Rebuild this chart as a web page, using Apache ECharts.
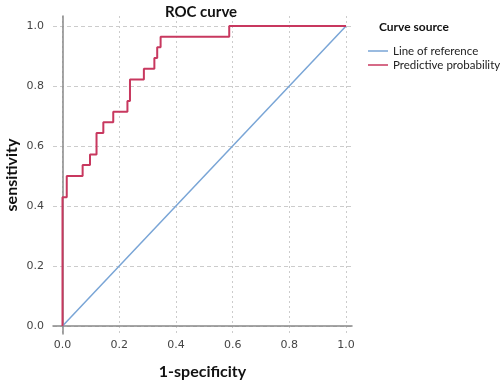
<!DOCTYPE html>
<html>
<head>
<meta charset="utf-8">
<script src="https://cdn.jsdelivr.net/npm/echarts@6/dist/echarts.min.js"></script>
<style>
  html, body { margin: 0; padding: 0; background: #fff; }
  #main { width: 500px; height: 384px; }
</style>
</head>
<body>
<div id="main"></div>
<script>
// ROC 曲线数据（拐点，step:'start' 先竖后横）
var fpr = [0, 0.015, 0.071, 0.097, 0.120, 0.144, 0.179, 0.229, 0.238, 0.287, 0.324, 0.334, 0.346, 0.588, 1.0];
var tpr = [0, 0.429, 0.500, 0.536, 0.571, 0.643, 0.679, 0.714, 0.750, 0.821, 0.857, 0.893, 0.929, 0.964, 1.0];
var refX = [0, 1];
var refY = [0, 1];
var tickValues = [0, 0.2, 0.4, 0.6, 0.8, 1.0];
var seriesNames = ['Line of reference', 'Predictive probability'];

var rocData = [];
for (var i = 0; i < fpr.length; i++) {
	rocData.push([fpr[i], tpr[i]]);
}
var refData = [];
for (var j = 0; j < refX.length; j++) {
	refData.push([refX[j], refY[j]]);
}

var dom = document.getElementById('main');
var myChart = echarts.init(dom);

var labelStyle = {
	fontFamily: 'DejaVu Sans',
	fontSize: 11,
	color: '#444',
	formatter: function (v) { return v.toFixed(1); }
};

var option = {
	animation: false,
	title: {
		text: 'ROC curve',
		left: 196,
		top: 0,
		textAlign: 'center',
		textStyle: { fontFamily: 'Lato', fontWeight: 'bold', fontSize: 15, color: '#111' }
	},
	graphic: [{
		type: 'text',
		left: 379,
		top: 21,
		style: { text: 'Curve source', fontFamily: 'Lato', fontWeight: 'bold', fontSize: 12, fill: '#111' }
	}],
	legend: {
		orient: 'vertical',
		left: 363,
		top: 40,
		icon: 'rect',
		itemWidth: 20,
		itemHeight: 1.5,
		itemGap: 2,
		data: seriesNames,
		textStyle: { fontFamily: 'Lato', fontSize: 11.5, color: '#222' }
	},
	grid: { left: 53, right: 148, top: 16, bottom: 50, containLabel: false, outerBoundsMode: 'none' },
	xAxis: {
		type: 'value',
		min: -0.0335,
		max: 1.021,
		name: '1-specificity',
		nameLocation: 'middle',
		nameGap: 30,
		nameMoveOverlap: false,
		nameTextStyle: { fontFamily: 'Lato', fontWeight: 'bold', fontSize: 16, color: '#111' },
		axisLine: { show: true, lineStyle: { color: '#888', width: 1.5 } },
		axisTick: { show: false, customValues: tickValues },
		axisLabel: Object.assign({ customValues: tickValues, margin: 6 }, labelStyle),
		splitLine: { show: true, lineStyle: { color: '#ccc', type: [2, 3] } }
	},
	yAxis: {
		type: 'value',
		min: -0.027,
		max: 1.033,
		name: 'sensitivity',
		nameLocation: 'middle',
		nameGap: 33,
		nameMoveOverlap: false,
		nameTextStyle: { fontFamily: 'Lato', fontWeight: 'bold', fontSize: 16, color: '#111' },
		axisLine: { show: true, lineStyle: { color: '#888', width: 1.5 } },
		axisTick: { show: false, customValues: tickValues },
		axisLabel: Object.assign({ customValues: tickValues, margin: 9 }, labelStyle),
		splitLine: { show: true, lineStyle: { color: '#ccc', type: [4, 3] } }
	},
	series: [{
		name: seriesNames[0],
		type: 'line',
		data: refData,
		symbol: 'none',
		lineStyle: { color: '#79a5d6', width: 1.5 },
		itemStyle: { color: '#79a5d6' }
	}, {
		name: seriesNames[1],
		type: 'line',
		data: rocData,
		step: 'start',
		symbol: 'none',
		lineStyle: { color: '#c8385f', width: 2 },
		itemStyle: { color: '#c8385f' }
	}]
};
myChart.setOption(option);

window.addEventListener('resize', function () {
	myChart.resize();
});
</script>
</body>
</html>
